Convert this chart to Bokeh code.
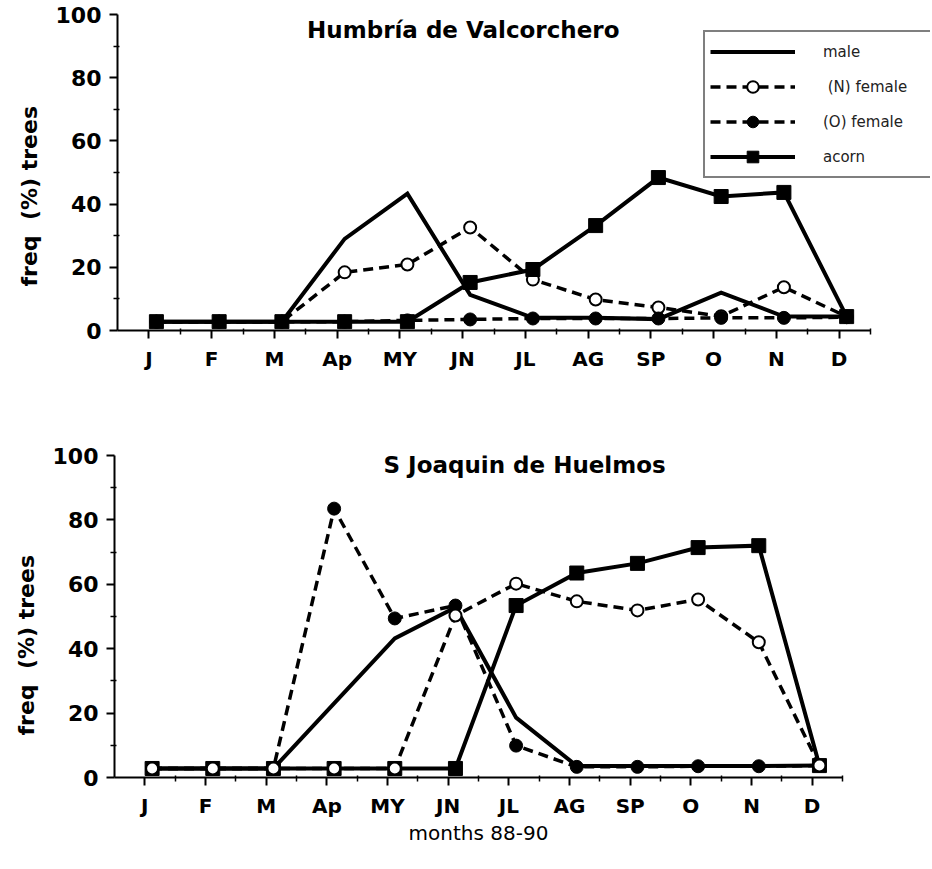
import numpy as np
from bokeh.plotting import figure
from bokeh.models import FixedTicker, Label, Legend, LegendItem, Range1d, Title
from bokeh.layouts import column
from bokeh.embed import file_html
from bokeh.resources import INLINE

# ---------------- data ----------------
months = ["J", "F", "M", "Ap", "MY", "JN", "JL", "AG", "SP", "O", "N", "D"]
y_ticks = [0, 20, 40, 60, 80, 100]
y_minor = [10, 30, 50, 70, 90]

# Humbría de Valcorchero
hv_male = [2.8, 2.8, 2.8, 29.0, 43.3, 11.3, 4.0, 4.0, 3.6, 12.0, 4.4, 4.4]
hv_nfemale = [2.8, 2.8, 2.8, 18.4, 20.9, 32.6, 16.1, 9.8, 7.3, 4.5, 13.7, 4.4]
hv_ofemale = [2.8, 2.8, 2.8, 2.8, 3.2, 3.5, 3.8, 3.8, 3.8, 4.0, 4.0, 4.2]
hv_acorn = [2.8, 2.8, 2.8, 2.8, 2.8, 15.2, 19.3, 33.2, 48.4, 42.4, 43.7, 4.4]

# S Joaquin de Huelmos
sj_male = [2.8, 2.8, 2.8, 23.0, 43.2, 52.8, 18.6, 3.6, 3.6, 3.6, 3.6, 3.7]
sj_nfemale = [2.8, 2.8, 2.8, 2.8, 2.8, 50.3, 60.2, 54.7, 51.9, 55.3, 42.0, 3.7]
sj_ofemale = [2.8, 2.8, 2.8, 83.5, 49.4, 53.4, 9.9, 3.3, 3.3, 3.5, 3.5, 3.7]
sj_acorn = [2.8, 2.8, 2.8, 2.8, 2.8, 2.8, 53.4, 63.5, 66.5, 71.4, 72.0, 3.7]

titles = ["Humbría de Valcorchero", "S Joaquin de Huelmos"]
y_label = "freq \u00a0(%) trees"
x_label = "months 88-90"
legend_labels = ["male", " (N) female", "(O) female", "acorn"]

# ---------------- style ----------------
BOLD_FONT = "DejaVu Sans"
DATA_SHIFT = 0.12
DASH = "10 6"
W = 932
x = np.arange(len(months)) + DATA_SHIFT


def base_fig(height, bl, br, bt, bb, x_end, ylab_offset):
    p = figure(width=W, height=height, x_range=Range1d(-0.5, x_end),
               y_range=Range1d(0, 100), output_backend="svg",
               toolbar_location=None, min_border_left=bl, min_border_right=br,
               min_border_top=bt, min_border_bottom=bb)
    if "frame_align" in p.properties():
        p.frame_align = False
    p.outline_line_color = None
    p.grid.visible = False
    p.background_fill_color = "white"
    p.border_fill_color = "white"

    xa = p.xaxis[0]
    xa.bounds = (-0.5, 11.5)
    xa.ticker = FixedTicker(ticks=list(range(12)),
                            minor_ticks=[i + 0.5 for i in range(12)])
    xa.major_label_overrides = {i: m for i, m in enumerate(months)}
    xa.major_label_text_font_size = "20px"
    xa.major_label_standoff = 8

    ya = p.yaxis[0]
    ya.ticker = FixedTicker(ticks=y_ticks, minor_ticks=y_minor)
    ya.major_label_text_font_size = "22px"
    ya.major_label_standoff = 8

    for ax in (xa, ya):
        ax.axis_line_width = 2
        ax.axis_line_color = "black"
        ax.major_tick_line_width = 2
        ax.major_tick_line_color = "black"
        ax.minor_tick_line_width = 1.5
        ax.minor_tick_line_color = "black"
        ax.major_tick_in = 0
        ax.major_tick_out = 8
        ax.minor_tick_in = 2
        ax.minor_tick_out = 4
        ax.major_label_text_font = BOLD_FONT
        ax.major_label_text_font_style = "bold"
        ax.major_label_text_color = "black"

    # vertical axis title, sitting a little below the middle of the axis
    p.add_layout(Title(text=y_label, align="left", offset=ylab_offset,
                       text_font=BOLD_FONT, text_font_style="bold",
                       text_font_size="22px", text_color="black",
                       standoff=22), "left")
    return p


def add_title(p, text, tx, ty):
    p.add_layout(Label(x=tx, y=ty, text=text, text_align="center",
                       text_baseline="middle", text_font=BOLD_FONT,
                       text_font_style="bold", text_font_size="23px",
                       text_color="black"))


# ---------------- top panel ----------------
# frame reaches the canvas edge so that the legend can overhang the axis end
p1 = base_fig(433, 117, 2, 14, 103, -0.5 + (W - 2 - 117) / 62.75, 44)
add_title(p1, titles[0], 5.01, 95.2)

r_nl = p1.line(x, hv_nfemale, line_width=3.5, line_dash=DASH, color="black", line_join="miter")
r_ol = p1.line(x, hv_ofemale, line_width=3.5, line_dash=DASH, color="black", line_join="miter")
r_m = p1.line(x, hv_male, line_width=4, color="black", line_join="miter")
r_nc = p1.scatter(x, hv_nfemale, marker="circle", size=12, fill_color="white",
                  line_color="black", line_width=2)
r_oc = p1.scatter(x, hv_ofemale, marker="circle", size=13, fill_color="black",
                  line_color="black")
r_al = p1.line(x, hv_acorn, line_width=4, color="black", line_join="miter")
r_as = p1.scatter(x, hv_acorn, marker="square", size=14, fill_color="black",
                  line_color="black")

legend = Legend(items=[
    LegendItem(label=legend_labels[0], renderers=[r_m]),
    LegendItem(label=legend_labels[1], renderers=[r_nl, r_nc]),
    LegendItem(label=legend_labels[2], renderers=[r_ol, r_oc]),
    LegendItem(label=legend_labels[3], renderers=[r_al, r_as]),
], location=(586, 152))
legend.glyph_width = 85
legend.glyph_height = 29
legend.spacing = 6
legend.padding = 5
legend.margin = 0
legend.label_standoff = 28
legend.label_width = 102
legend.label_text_font = "DejaVu Sans"
legend.label_text_font_size = "15px"
legend.label_text_color = "#222222"
legend.border_line_color = "black"
legend.border_line_width = 2
legend.background_fill_color = "white"
legend.background_fill_alpha = 1.0
p1.add_layout(legend)

# ---------------- bottom panel ----------------
p2 = base_fig(421, 114, W - 842, 22, 77, 11.5, 42)
add_title(p2, titles[1], 6.26, 97.0)
xa2 = p2.xaxis[0]
xa2.axis_label = x_label
xa2.axis_label_text_font = "DejaVu Sans"
xa2.axis_label_text_font_style = "normal"
xa2.axis_label_text_font_size = "20px"
xa2.axis_label_text_color = "black"
xa2.axis_label_standoff = 0

p2.line(x, sj_acorn, line_width=4, color="black", line_join="miter")
p2.scatter(x, sj_acorn, marker="square", size=14, fill_color="black", line_color="black")
p2.line(x, sj_male, line_width=4, color="black", line_join="miter")
p2.line(x, sj_ofemale, line_width=3.5, line_dash=DASH, color="black", line_join="miter")
p2.scatter(x, sj_ofemale, marker="circle", size=13, fill_color="black", line_color="black")
p2.line(x, sj_nfemale, line_width=3.5, line_dash=DASH, color="black", line_join="miter")
p2.scatter(x, sj_nfemale, marker="circle", size=12, fill_color="white",
           line_color="black", line_width=2)

layout = column(p1, p2, spacing=0)
open("out.html", "w").write(file_html(layout, INLINE))
